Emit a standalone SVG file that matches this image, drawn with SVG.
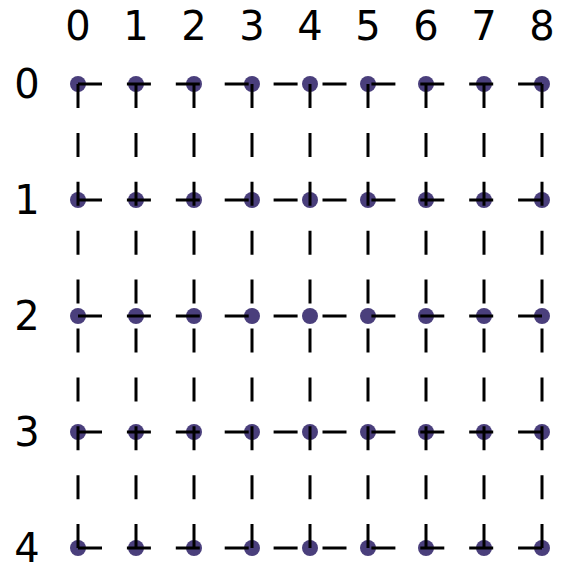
<svg xmlns="http://www.w3.org/2000/svg" width="570" height="574" viewBox="0 0 570 574">
<style>
.dot{fill:#4a3f7c}
.lbl{font-family:"DejaVu Sans",sans-serif;font-size:40px;fill:#000;text-anchor:middle}
.c{stroke:#000;stroke-width:3;stroke-dasharray:24 24.9;fill:none}
</style>
<rect width="570" height="574" fill="#fff"/>
<g id="col-labels">
<text class="lbl" x="78" y="40">0</text>
<text class="lbl" x="136" y="40">1</text>
<text class="lbl" x="194" y="40">2</text>
<text class="lbl" x="252" y="40">3</text>
<text class="lbl" x="310" y="40">4</text>
<text class="lbl" x="368" y="40">5</text>
<text class="lbl" x="426" y="40">6</text>
<text class="lbl" x="484" y="40">7</text>
<text class="lbl" x="542" y="40">8</text>
</g>
<g id="row-labels">
<text class="lbl" x="27" y="98">0</text>
<text class="lbl" x="27" y="214">1</text>
<text class="lbl" x="27" y="330">2</text>
<text class="lbl" x="27" y="446">3</text>
<text class="lbl" x="27" y="562">4</text>
</g>
<g id="nodes">
<g id="n0-0"><circle class="dot" cx="78" cy="84" r="8"/></g>
<g id="n0-1"><circle class="dot" cx="136" cy="84" r="8"/></g>
<g id="n0-2"><circle class="dot" cx="194" cy="84" r="8"/></g>
<g id="n0-3"><circle class="dot" cx="252" cy="84" r="8"/></g>
<g id="n0-4"><circle class="dot" cx="310" cy="84" r="8"/></g>
<g id="n0-5"><circle class="dot" cx="368" cy="84" r="8"/></g>
<g id="n0-6"><circle class="dot" cx="426" cy="84" r="8"/></g>
<g id="n0-7"><circle class="dot" cx="484" cy="84" r="8"/></g>
<g id="n0-8"><circle class="dot" cx="542" cy="84" r="8"/></g>
<g id="n1-0"><circle class="dot" cx="78" cy="200" r="8"/></g>
<g id="n1-1"><circle class="dot" cx="136" cy="200" r="8"/></g>
<g id="n1-2"><circle class="dot" cx="194" cy="200" r="8"/></g>
<g id="n1-3"><circle class="dot" cx="252" cy="200" r="8"/></g>
<g id="n1-4"><circle class="dot" cx="310" cy="200" r="8"/></g>
<g id="n1-5"><circle class="dot" cx="368" cy="200" r="8"/></g>
<g id="n1-6"><circle class="dot" cx="426" cy="200" r="8"/></g>
<g id="n1-7"><circle class="dot" cx="484" cy="200" r="8"/></g>
<g id="n1-8"><circle class="dot" cx="542" cy="200" r="8"/></g>
<g id="n2-0"><circle class="dot" cx="78" cy="316" r="8"/></g>
<g id="n2-1"><circle class="dot" cx="136" cy="316" r="8"/></g>
<g id="n2-2"><circle class="dot" cx="194" cy="316" r="8"/></g>
<g id="n2-3"><circle class="dot" cx="252" cy="316" r="8"/></g>
<g id="n2-4"><circle class="dot" cx="310" cy="316" r="8"/></g>
<g id="n2-5"><circle class="dot" cx="368" cy="316" r="8"/></g>
<g id="n2-6"><circle class="dot" cx="426" cy="316" r="8"/></g>
<g id="n2-7"><circle class="dot" cx="484" cy="316" r="8"/></g>
<g id="n2-8"><circle class="dot" cx="542" cy="316" r="8"/></g>
<g id="n3-0"><circle class="dot" cx="78" cy="432" r="8"/></g>
<g id="n3-1"><circle class="dot" cx="136" cy="432" r="8"/></g>
<g id="n3-2"><circle class="dot" cx="194" cy="432" r="8"/></g>
<g id="n3-3"><circle class="dot" cx="252" cy="432" r="8"/></g>
<g id="n3-4"><circle class="dot" cx="310" cy="432" r="8"/></g>
<g id="n3-5"><circle class="dot" cx="368" cy="432" r="8"/></g>
<g id="n3-6"><circle class="dot" cx="426" cy="432" r="8"/></g>
<g id="n3-7"><circle class="dot" cx="484" cy="432" r="8"/></g>
<g id="n3-8"><circle class="dot" cx="542" cy="432" r="8"/></g>
<g id="n4-0"><circle class="dot" cx="78" cy="548" r="8"/></g>
<g id="n4-1"><circle class="dot" cx="136" cy="548" r="8"/></g>
<g id="n4-2"><circle class="dot" cx="194" cy="548" r="8"/></g>
<g id="n4-3"><circle class="dot" cx="252" cy="548" r="8"/></g>
<g id="n4-4"><circle class="dot" cx="310" cy="548" r="8"/></g>
<g id="n4-5"><circle class="dot" cx="368" cy="548" r="8"/></g>
<g id="n4-6"><circle class="dot" cx="426" cy="548" r="8"/></g>
<g id="n4-7"><circle class="dot" cx="484" cy="548" r="8"/></g>
<g id="n4-8"><circle class="dot" cx="542" cy="548" r="8"/></g>
</g>
<g id="connectors">
<line class="c" x1="78" y1="84" x2="542" y2="84"/>
<line class="c" x1="78" y1="200" x2="542" y2="200"/>
<line class="c" x1="78" y1="316" x2="542" y2="316"/>
<line class="c" x1="78" y1="432" x2="542" y2="432"/>
<line class="c" x1="78" y1="548" x2="542" y2="548"/>
<line class="c" x1="78" y1="84" x2="78" y2="548"/>
<line class="c" x1="136" y1="84" x2="136" y2="548"/>
<line class="c" x1="194" y1="84" x2="194" y2="548"/>
<line class="c" x1="252" y1="84" x2="252" y2="548"/>
<line class="c" x1="310" y1="84" x2="310" y2="548"/>
<line class="c" x1="368" y1="84" x2="368" y2="548"/>
<line class="c" x1="426" y1="84" x2="426" y2="548"/>
<line class="c" x1="484" y1="84" x2="484" y2="548"/>
<line class="c" x1="542" y1="84" x2="542" y2="548"/>
</g>
</svg>
